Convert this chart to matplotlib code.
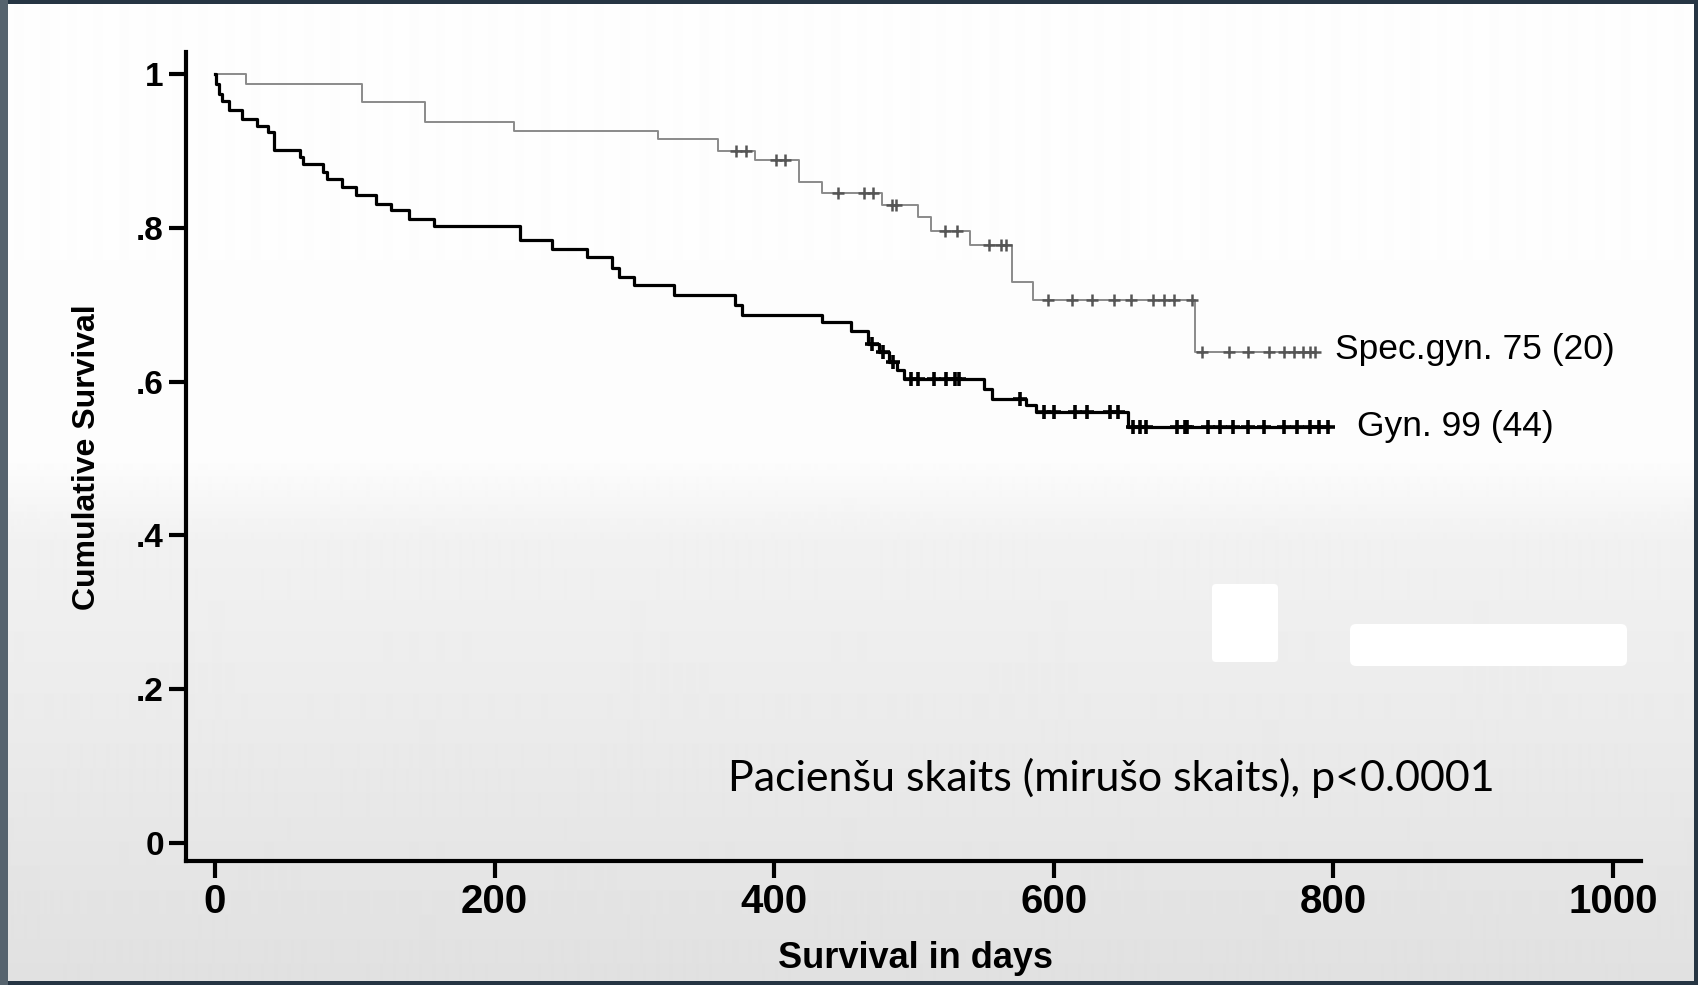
import matplotlib
matplotlib.use('Agg')
import matplotlib.pyplot as plt
import numpy as np
from matplotlib.patches import FancyBboxPatch

# Kaplan-Meier curves (days, cumulative survival)
gyn_t = [0, 1, 3, 5, 10, 19, 30, 38, 42, 61, 63, 77, 80, 91, 101, 115, 126, 139, 157,
         218, 241, 266, 284, 289, 300, 328, 372, 377, 434, 455, 467, 475, 482, 488, 493,
         550, 556, 580, 587, 653]
gyn_s = [1.0, 0.987, 0.974, 0.965, 0.953, 0.942, 0.932, 0.924, 0.901, 0.892, 0.883, 0.873,
         0.864, 0.853, 0.842, 0.831, 0.823, 0.812, 0.802,
         0.784, 0.773, 0.762, 0.748, 0.736, 0.725, 0.712, 0.699, 0.686, 0.678, 0.666, 0.649,
         0.638, 0.626, 0.615, 0.604, 0.591, 0.578, 0.569, 0.560, 0.541]
gyn_end = 796
gyn_cens = [470, 478, 485, 498, 503, 514, 523, 529, 532, 576, 593, 600, 615, 624, 640, 646,
            657, 662, 666, 688, 694, 695, 710, 719, 728, 739, 750, 765, 774, 783, 790, 796]

spec_t = [0, 22, 105, 150, 214, 317, 360, 386, 418, 434, 477, 503, 512, 540, 570, 585, 701]
spec_s = [1.0, 0.987, 0.963, 0.937, 0.926, 0.915, 0.900, 0.888, 0.859, 0.845, 0.830,
          0.814, 0.796, 0.777, 0.729, 0.706, 0.638]
spec_end = 787
spec_cens = [373, 380, 401, 408, 446, 464, 471, 484, 487, 522, 531, 554, 562, 566, 596, 613,
             627, 643, 655, 671, 679, 686, 699, 706, 725, 739, 754, 765, 772, 778, 783, 787]

x_ticks = [0, 200, 400, 600, 800, 1000]
y_ticks = [0, 0.2, 0.4, 0.6, 0.8, 1]
y_ticklabels = ['0', '.2', '.4', '.6', '.8', '1']

W, H = 1698, 985
fig = plt.figure(figsize=(W / 100, H / 100), dpi=100)
fig.patch.set_facecolor('#263543')

# page background: white scan, greyish lower half
bg = fig.add_axes([0, 0, 1, 1])
bg.set_xlim(0, W)
bg.set_ylim(H, 0)
bg.axis('off')
bg.add_patch(plt.Rectangle((0, 0), 8, H, color='#56636e', lw=0))
rows = np.arange(4, 981)
shade = np.interp(rows, [4, 460, 540, 700, 981], [0.995, 0.99, 0.945, 0.925, 0.88])
grad = np.tile(shade[:, None], (1, 2))
bg.imshow(grad, cmap='gray', vmin=0, vmax=1, extent=[8, 1694, 981, 4],
          aspect='auto', interpolation='bilinear')
# whited-out blobs of the scan
bg.add_patch(FancyBboxPatch((1216, 588), 58, 70, boxstyle='round,pad=4',
                            color='white', lw=0))
bg.add_patch(FancyBboxPatch((1356, 630), 265, 30, boxstyle='round,pad=6',
                            color='white', lw=0))

ax = fig.add_axes([186 / W, 1 - 861 / H, (1641 - 186) / W, (861 - 52) / H])
ax.set_facecolor('none')
ax.set_xlim(-20.7, 1020)
ax.set_ylim(-0.0234, 1.0286)

for side in ['top', 'right']:
    ax.spines[side].set_visible(False)
for side in ['left', 'bottom']:
    ax.spines[side].set_linewidth(3)

# curves
ax.step(spec_t + [spec_end], spec_s + [spec_s[-1]], where='post',
        color='#8a8a8a', lw=1.4)
ax.step(gyn_t + [gyn_end], gyn_s + [gyn_s[-1]], where='post',
        color='black', lw=2.3)

# censoring marks
def level(ts, ss, c):
    idx = np.searchsorted(ts, c, side='right') - 1
    return np.array(ss)[idx]

ax.plot(spec_cens, level(spec_t, spec_s, spec_cens), ls='none', marker='+',
        ms=8, mew=1.8, color='#555555')
ax.plot(gyn_cens, level(gyn_t, gyn_s, gyn_cens), ls='none', marker='+',
        ms=10, mew=2.6, color='black')

ax.text(spec_end + 14, spec_s[-1] + 0.004, 'Spec.gyn. 75 (20)', fontsize=25.5,
        family='Liberation Sans', va='center', ha='left')
ax.text(gyn_end + 21, gyn_s[-1] + 0.001, 'Gyn. 99 (44)', fontsize=25.5,
        family='Liberation Sans', va='center', ha='left')

ax.set_xticks(x_ticks)
ax.set_xticklabels([str(v) for v in x_ticks], fontsize=29, fontweight='bold',
                   family='Liberation Sans')
ax.set_yticks(y_ticks)
ax.set_yticklabels(y_ticklabels, fontsize=24, fontweight='bold', family='Liberation Sans')
ax.tick_params(axis='both', length=12, width=3, direction='out')
ax.tick_params(axis='x', pad=4)
ax.tick_params(axis='y', pad=4)

fig.text(915 / W, 1 - 958 / H, 'Survival in days', fontsize=26, fontweight='bold',
         family='Liberation Sans', ha='center', va='center')
fig.text(87 / W, 1 - 457 / H, 'Cumulative Survival', fontsize=23, fontweight='bold',
         family='Liberation Sans', ha='center', va='center', rotation=90)

fig.text(728 / W, 1 - 778 / H, 'Pacienšu skaits (mirušo skaits), p<0.0001',
         fontsize=31, family='Lato', ha='left', va='center')

fig.savefig('out.png', dpi=100, facecolor=fig.get_facecolor())
